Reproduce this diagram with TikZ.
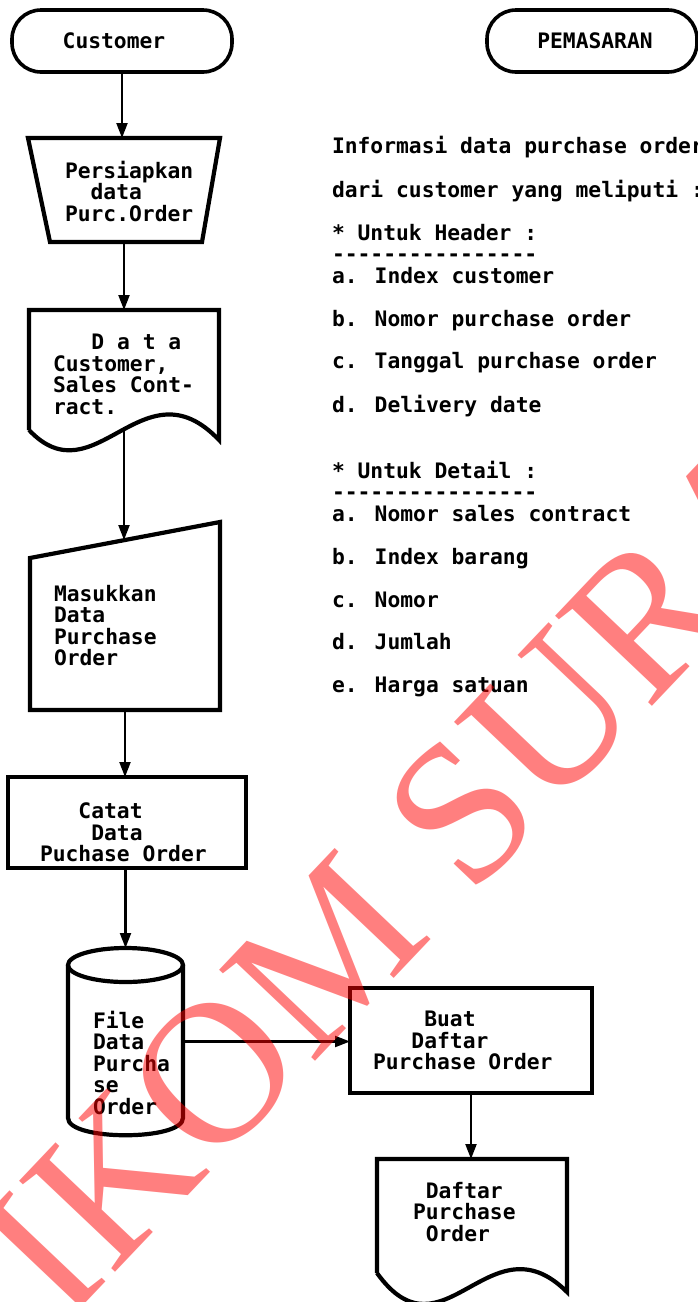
\documentclass[tikz,border=0pt]{standalone}
\usepackage{fontspec}
\newfontfamily\dmmono{DejaVu Sans Mono}
\newfontfamily\wmserif{Liberation Serif}
\usetikzlibrary{arrows.meta,calc}
\newcommand\dmfont{\dmmono\bfseries\fontsize{21.3}{21.5}\selectfont}
\newcommand\dd{-\kern0pt}
\newcommand\dashrow{\dd\dd\dd\dd\dd\dd\dd\dd\dd\dd\dd\dd\dd\dd\dd\dd}
\begin{document}
\begin{tikzpicture}[x=1pt,y=-1pt,
  shp/.style={line width=4.2pt},
  box/.style={inner sep=0pt, outer sep=0pt},
  term/.style={draw, line width=3.6pt, rounded corners=29pt, minimum width=#1,
    minimum height=62pt, inner sep=0pt, outer sep=0pt, font=\dmfont},
  rectbox/.style={draw, line width=4.2pt, inner sep=0pt, outer sep=0pt},
  lbl/.style={inner sep=0pt, outer sep=0pt, anchor=north west, align=left, font=\dmfont},
  arr/.style={line width=2.2pt, -{Triangle[length=15pt,width=11pt]}}
]
\path[fill=white, use as bounding box] (0,0) rectangle (697,1302);

% terminators
\node[term=220pt] (cust) at (122,41) {Customer\hspace*{16pt}};
\node[term=210pt] (pem) at (592,41) {\hspace*{6pt}PEMASARAN};

% manual operation (trapezoid)
\node[box, minimum width=192pt, minimum height=104pt] (trap) at (124,190) {};
\draw[shp] (28,138) -- (220,138) -- (202,242) -- (50,242) -- cycle;
\node[lbl] (traptxt) at (65,161) {Persiapkan\\\phantom{xx}data\\Purc.Order};

% document 1
\node[box, minimum width=190pt, minimum height=120pt] (doc1) at (124,370) {};
\draw[shp] (29,430) -- (29,310) -- (219,310) -- (219,440)
  .. controls (143,360) and (95,500) .. (29,430);
\node[lbl] (doc1txt) at (53,334) {\phantom{xxx}D a t a\\Customer,\\Sales Cont-\\ract.};

% manual input
\node[box, minimum width=190pt, minimum height=188pt] (minp) at (125,616) {};
\draw[shp] (30,558) -- (220,522) -- (220,710) -- (30,710) -- cycle;
\coordinate (mtop) at (124,540);
\node[lbl] (minptxt) at (54,585) {Masukkan\\Data\\Purchase\\Order};

% process Catat
\node[rectbox, minimum width=238pt, minimum height=91pt] (catat) at (127,822.5) {};
\node[lbl] (catattxt) at (40,803) {\phantom{xxx}Catat\\\phantom{xxxx}Data\\Puchase Order};

% cylinder (file)
\node[box, minimum width=115pt, minimum height=187pt] (cyl) at (125.5,1041.5) {};
\draw[shp] (68,965) -- (68,1118) .. controls (68,1141) and (183,1141) .. (183,1118) -- (183,965);
\draw[shp] (125.5,965) ellipse [x radius=57.5, y radius=17];
\node[lbl] (cyltxt) at (93,1011) {File\\Data\\Purcha\\se\\Order};

% process Buat
\node[rectbox, minimum width=242pt, minimum height=105pt] (buat) at (471,1040.5) {};
\node[lbl] (buattxt) at (373,1011) {\phantom{xxxx}Buat\\\phantom{xxx}Daftar\\Purchase Order};

% document 2
\node[box, minimum width=190pt, minimum height=114pt] (doc2) at (472,1216) {};
\draw[shp] (377,1273) -- (377,1159) -- (567,1159) -- (567,1292)
  .. controls (490,1215) and (443,1365) .. (377,1273);
\node[lbl] (doc2txt) at (413,1182) {\phantom{x}Daftar\\Purchase\\\phantom{x}Order};

% information text
\node[lbl] (info) at (332,136) {Informasi data purchase order\\[21.33pt]
dari customer yang meliputi :\\[21.33pt]
* Untuk Header :\\
\dashrow\\
a. Index customer\\[21.33pt]
b. Nomor purchase order\\[21.33pt]
c. Tanggal purchase order\\[21.33pt]
d. Delivery date\\[42.66pt]
* Untuk Detail :\\
\dashrow\\
a. Nomor sales contract\\[21.33pt]
b. Index barang\\[21.33pt]
c. Nomor\\[21.33pt]
d. Jumlah\\[21.33pt]
e. Harga satuan};

% connectors
\draw[arr] (cust.south) -- (cust.south |- trap.north);
\draw[arr] (trap.south) -- (trap.south |- doc1.north);
\draw[arr] (doc1.south) -- (mtop);
\draw[arr] (minp.south) -- (minp.south |- catat.north);
\draw[arr] (cyl.north |- catat.south) -- (cyl.north);
\draw[arr] (cyl.east) -- (cyl.east -| buat.west);
\draw[arr] (buat.south) -- (buat.south |- doc2.north);

% watermark
\node[text=red, text opacity=0.5, inner sep=0pt, rotate=46.5,
  font=\wmserif\fontsize{202}{202}\selectfont] (wmark) at (507,764) {STIKOM SURABAYA};
\end{tikzpicture}
\end{document}
